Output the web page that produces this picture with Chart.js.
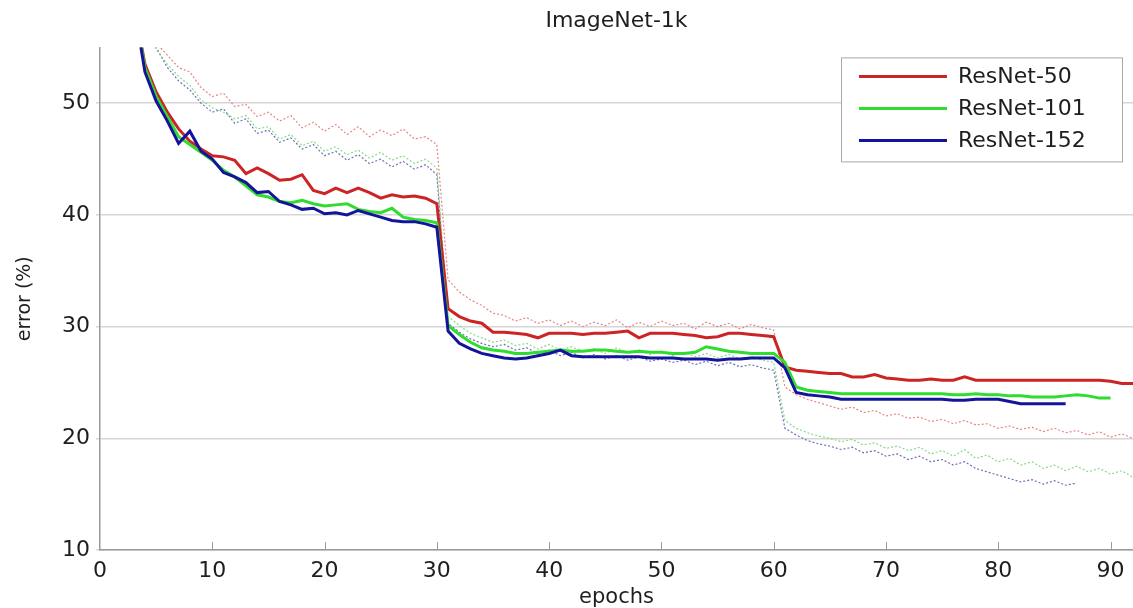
<!DOCTYPE html>
<html>
<head>
<meta charset="utf-8">
<title>ImageNet-1k</title>
<script src="https://cdn.jsdelivr.net/npm/chart.js@4.4.1/dist/chart.umd.min.js"></script>
<style>
  html, body { margin: 0; padding: 0; background: #fff; }
  #wrap { width: 1133px; height: 608px; position: relative; }
</style>
</head>
<body>
<div id="wrap"><canvas id="errChart"></canvas></div>
<script>
// solid curves (val error) start at epoch 3, dashed (train error) at epoch 4
const valStart = 3;
const trainStart = 4;

const seriesNames = ['ResNet-50', 'ResNet-101', 'ResNet-152'];

const res50Val = [
  59, 53.5, 51.0, 49.2, 47.7, 46.6, 45.9, 45.3, 45.2, 44.9,
  43.7, 44.2, 43.7, 43.1, 43.2, 43.6, 42.2, 41.9, 42.4, 42.0,
  42.4, 42.0, 41.5, 41.8, 41.6, 41.7, 41.5, 41.0, 31.6, 30.9,
  30.5, 30.3, 29.5, 29.5, 29.4, 29.3, 29.0, 29.4, 29.4, 29.4,
  29.3, 29.4, 29.4, 29.5, 29.6, 29.0, 29.4, 29.4, 29.4, 29.3,
  29.2, 29.0, 29.1, 29.4, 29.4, 29.3, 29.2, 29.1, 26.4, 26.1,
  26.0, 25.9, 25.8, 25.8, 25.5, 25.5, 25.7, 25.4, 25.3, 25.2,
  25.2, 25.3, 25.2, 25.2, 25.5, 25.2, 25.2, 25.2, 25.2, 25.2,
  25.2, 25.2, 25.2, 25.2, 25.2, 25.2, 25.2, 25.1, 24.9, 24.9
];
const res101Val = [
  59, 53.2, 50.6, 48.8, 47.0, 46.3, 45.6, 44.9, 44.0, 43.4,
  42.6, 41.8, 41.6, 41.2, 41.1, 41.3, 41.0, 40.8, 40.9, 41.0,
  40.5, 40.3, 40.2, 40.6, 39.8, 39.6, 39.5, 39.3, 30.1, 29.3,
  28.6, 28.1, 27.9, 27.8, 27.6, 27.6, 27.7, 27.8, 27.9, 27.8,
  27.8, 27.9, 27.9, 27.8, 27.7, 27.8, 27.7, 27.7, 27.6, 27.6,
  27.7, 28.2, 28.0, 27.8, 27.7, 27.6, 27.6, 27.6, 26.8, 24.6,
  24.3, 24.2, 24.1, 24.0, 24.0, 24.0, 24.0, 24.0, 24.0, 24.0,
  24.0, 24.0, 24.0, 23.9, 23.9, 24.0, 23.9, 23.9, 23.8, 23.8,
  23.7, 23.7, 23.7, 23.8, 23.9, 23.8, 23.6, 23.6
];
const res152Val = [
  59, 52.8, 50.2, 48.4, 46.4, 47.5, 45.7, 45.0, 43.8, 43.4,
  42.9, 42.0, 42.1, 41.2, 40.9, 40.5, 40.6, 40.1, 40.2, 40.0,
  40.4, 40.1, 39.8, 39.5, 39.4, 39.4, 39.2, 38.9, 29.6, 28.5,
  28.0, 27.6, 27.4, 27.2, 27.1, 27.2, 27.4, 27.6, 27.9, 27.4,
  27.3, 27.3, 27.3, 27.3, 27.3, 27.3, 27.2, 27.2, 27.2, 27.1,
  27.1, 27.1, 27.0, 27.1, 27.1, 27.2, 27.2, 27.2, 26.3, 24.1,
  23.9, 23.8, 23.7, 23.5, 23.5, 23.5, 23.5, 23.5, 23.5, 23.5,
  23.5, 23.5, 23.5, 23.4, 23.4, 23.5, 23.5, 23.5, 23.3, 23.1,
  23.1, 23.1, 23.1, 23.1
];

const res50Train = [
  57, 55.4, 54.3, 53.2, 52.8, 51.4, 50.6, 50.9, 49.7, 49.9,
  48.8, 49.2, 48.4, 48.9, 47.8, 48.3, 47.5, 48.1, 47.2, 47.9,
  47.0, 47.6, 47.1, 47.7, 46.8, 47.0, 46.3, 34.2, 33.1, 32.4,
  31.9, 31.2, 31.0, 30.5, 30.8, 30.3, 30.6, 30.1, 30.5, 30.0,
  30.4, 30.1, 30.6, 29.9, 30.4, 30.0, 30.5, 30.1, 30.3, 29.8,
  30.4, 30.0, 30.3, 29.8, 30.2, 29.9, 29.7, 24.6, 23.9, 23.5,
  23.2, 22.9, 22.6, 22.8, 22.3, 22.5, 22.0, 22.2, 21.8, 21.9,
  21.5, 21.7, 21.3, 21.6, 21.2, 21.3, 20.9, 21.1, 20.8, 21.0,
  20.6, 20.9, 20.5, 20.7, 20.3, 20.6, 20.1, 20.4, 20.0
];
const res101Train = [
  57, 54.8, 53.5, 52.4, 51.6, 50.3, 49.6, 49.2, 48.6, 48.9,
  47.7, 47.9, 46.8, 47.2, 46.2, 46.6, 45.7, 46.1, 45.4, 45.8,
  45.1, 45.6, 44.9, 45.3, 44.6, 45.0, 44.2, 30.9, 30.1, 29.4,
  29.0, 28.6, 28.8, 28.3, 28.5, 28.0, 28.4, 27.9, 28.2, 27.8,
  28.0, 27.6, 28.1, 27.7, 27.9, 27.5, 27.8, 27.4, 27.7, 27.3,
  27.6, 27.2, 27.5, 27.1, 27.3, 27.0, 26.8, 21.6, 20.9, 20.5,
  20.2, 20.0, 19.7, 19.9, 19.4, 19.6, 19.1, 19.3, 18.9, 19.2,
  18.6, 18.9, 18.4, 19.0, 18.2, 18.5, 17.9, 18.2, 17.6, 17.9,
  17.3, 17.6, 17.1, 17.5, 17.0, 17.3, 16.8, 17.1, 16.5
];
const res152Train = [
  57, 55.0, 53.2, 52.0, 51.2, 50.0, 49.2, 49.5, 48.2, 48.6,
  47.3, 47.6, 46.5, 46.9, 45.9, 46.3, 45.3, 45.7, 44.9, 45.4,
  44.6, 45.0, 44.3, 44.8, 44.1, 44.5, 43.6, 30.3, 29.5, 28.9,
  28.5, 28.2, 28.4, 27.9, 28.1, 27.6, 27.9, 27.4, 27.7, 27.2,
  27.5, 27.1, 27.4, 27.0, 27.3, 26.9, 27.1, 26.8, 27.0, 26.6,
  26.9, 26.5, 26.8, 26.4, 26.6, 26.3, 26.1, 20.9, 20.3, 19.8,
  19.5, 19.3, 19.0, 19.2, 18.7, 18.9, 18.4, 18.6, 18.1, 18.4,
  17.9, 18.1, 17.6, 17.9, 17.3, 17.0, 16.7, 16.4, 16.1, 16.3,
  15.9, 16.2, 15.8, 16.0
];

const xTicks = [0, 10, 20, 30, 40, 50, 60, 70, 80, 90];
const yTicks = [10, 20, 30, 40, 50];

const solidColors = ['#cc2424', '#2fdc2f', '#14149a'];
const trainColors = ['rgba(228,120,120,0.9)', 'rgba(120,215,120,0.9)', 'rgba(95,95,175,0.9)'];

const FONT = "'DejaVu Sans', sans-serif";

function toPoints(start, values) {
  return values.map((v, i) => ({ x: start + i, y: v }));
}

function solid(i, values) {
  return {
    label: seriesNames[i],
    data: toPoints(valStart, values),
    borderColor: solidColors[i],
    backgroundColor: solidColors[i],
    borderWidth: 3,
    pointRadius: 0,
    clip: 0,
    order: 3 - i
  };
}

function train(i, values) {
  return {
    label: seriesNames[i] + ' train',
    data: toPoints(trainStart, values),
    borderColor: trainColors[i],
    borderWidth: 1.2,
    borderDash: [2, 2],
    pointRadius: 0,
    clip: 0,
    order: 10 + i
  };
}

// inward tick marks on the x axis + boxed legend in the top right corner
const extras = {
  id: 'extras',
  afterDraw(chart) {
    const ctx = chart.ctx;
    const area = chart.chartArea;
    const xs = chart.scales.x;
    ctx.save();
    ctx.strokeStyle = '#9a9a9a';
    ctx.lineWidth = 1;
    xTicks.forEach(t => {
      if (t === 0) return;
      const px = Math.round(xs.getPixelForValue(t)) + 0.5;
      ctx.beginPath();
      ctx.moveTo(px, area.bottom);
      ctx.lineTo(px, area.bottom - 8);
      ctx.stroke();
    });

    const bx = area.right - 292, by = area.top + 10, bw = 281, bh = 104;
    ctx.fillStyle = '#fff';
    ctx.fillRect(bx, by, bw, bh);
    ctx.strokeStyle = '#a8a8a8';
    ctx.strokeRect(bx + 0.5, by + 0.5, bw, bh);
    ctx.font = '22px ' + FONT;
    ctx.textBaseline = 'middle';
    ctx.textAlign = 'left';
    seriesNames.forEach((name, i) => {
      const y = by + 19 + i * 32;
      ctx.strokeStyle = solidColors[i];
      ctx.lineWidth = 3;
      ctx.beginPath();
      ctx.moveTo(bx + 18, y);
      ctx.lineTo(bx + 106, y);
      ctx.stroke();
      ctx.fillStyle = '#1e1e1e';
      ctx.fillText(name, bx + 117, y + 1);
    });
    ctx.restore();
  }
};

new Chart(document.getElementById('errChart'), {
  type: 'line',
  data: {
    datasets: [
      solid(0, res50Val), solid(1, res101Val), solid(2, res152Val),
      train(0, res50Train), train(1, res101Train), train(2, res152Train)
    ]
  },
  options: {
    responsive: true,
    maintainAspectRatio: false,
    animation: false,
    layout: { padding: 0 },
    elements: { line: { tension: 0 } },
    plugins: {
      legend: { display: false },
      tooltip: { enabled: false },
      title: {
        display: true,
        text: 'ImageNet-1k',
        fullSize: false,
        color: '#1e1e1e',
        font: { family: FONT, size: 22, weight: 'normal' },
        padding: { top: 8, bottom: 13 }
      }
    },
    scales: {
      x: {
        type: 'linear',
        min: 0,
        max: 92,
        afterFit(scale) { scale.height = 58; },
        afterBuildTicks(scale) { scale.ticks = xTicks.map(v => ({ value: v })); },
        grid: { display: false },
        border: { display: true, color: '#9a9a9a', width: 1.5 },
        ticks: {
          color: '#1e1e1e',
          padding: 0,
          maxRotation: 0,
          font: { family: FONT, size: 22 }
        },
        title: {
          display: true,
          text: 'epochs',
          color: '#1e1e1e',
          font: { family: FONT, size: 21 },
          padding: { top: 0, bottom: -2 }
        }
      },
      y: {
        type: 'linear',
        min: 10,
        max: 55,
        afterFit(scale) { scale.width = 100; },
        afterBuildTicks(scale) { scale.ticks = yTicks.map(v => ({ value: v })); },
        grid: { color: '#d6d6d6', lineWidth: 1.5, tickLength: 4, drawTicks: true },
        border: { display: true, color: '#9a9a9a', width: 1.5 },
        ticks: {
          color: '#1e1e1e',
          padding: 6,
          font: { family: FONT, size: 22 }
        },
        title: {
          display: true,
          text: 'error (%)',
          color: '#1e1e1e',
          font: { family: FONT, size: 19 },
          padding: { top: 14, bottom: 0 }
        }
      }
    }
  },
  plugins: [extras]
});
</script>
</body>
</html>
